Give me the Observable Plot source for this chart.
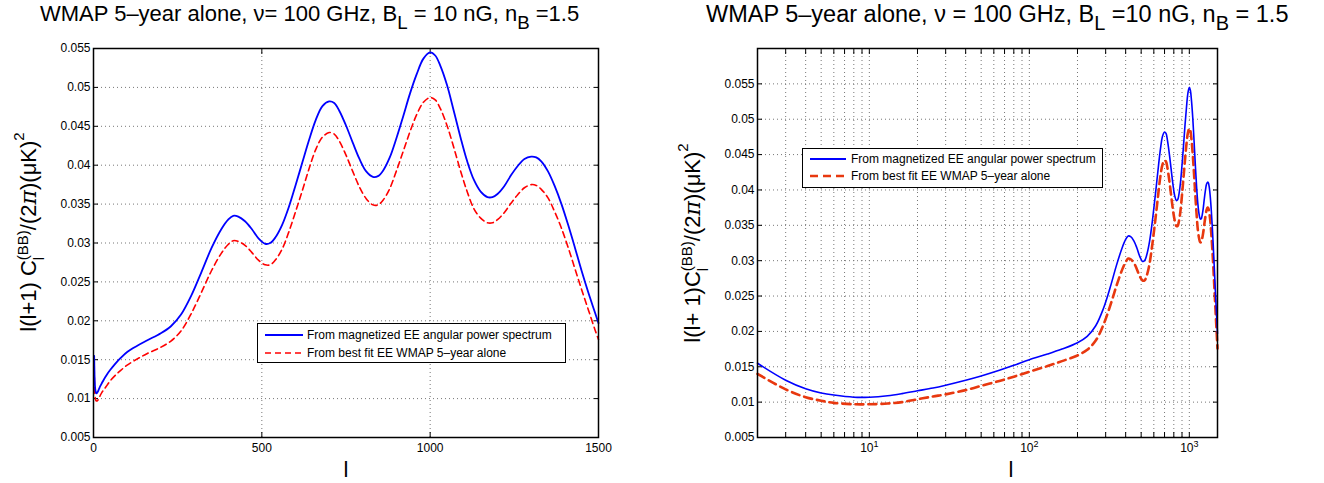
<!DOCTYPE html>
<html><head><meta charset="utf-8">
<script src="https://cdn.jsdelivr.net/npm/d3@7"></script>
<script src="https://cdn.jsdelivr.net/npm/@observablehq/plot@0.6"></script>
<style>
body{margin:0;background:#fff;font-family:"Liberation Sans",Arial,Helvetica,sans-serif;}
#wrap{position:relative;width:1324px;height:483px;overflow:hidden;background:#fff;}
.panel{position:absolute;top:0;}
.title{position:absolute;top:0px;white-space:nowrap;color:#000;line-height:28px;}
.title sub{font-size:0.85em;vertical-align:-0.42em;line-height:0;}
.ylab{position:absolute;font-size:22px;white-space:nowrap;transform:translate(-50%,-50%) rotate(-90deg);color:#000;line-height:26px;}
.ss{display:inline-flex;flex-direction:column;vertical-align:0.5em;font-size:15px;line-height:16px;}
.ylab sup{font-size:15px;vertical-align:0.75em;line-height:0;}
.xlab{position:absolute;font-size:22px;line-height:22px;color:#000;transform:translateX(-50%);}
.legend{position:absolute;background:#fff;border:1.3px solid #000;font-size:12px;color:#000;box-sizing:border-box;}
.legend .row{position:absolute;left:0;white-space:nowrap;line-height:14px;}
.legend svg{position:absolute;}
</style></head>
<body><div id="wrap"></div>
<script>
// ---- data ----
const ell = [2,3,4,5,6,8,10,13,16,20,25,30,40,50,65,80,100,130,160,200,230,260,290,320,350,380,400,415,430,450,470,490,510,525,540,560,580,600,620,640,660,680,700,715,730,750,770,790,810,830,845,860,880,900,920,940,960,980,1000,1015,1030,1050,1070,1090,1110,1130,1150,1170,1185,1200,1220,1240,1260,1280,1300,1315,1330,1350,1370,1390,1410,1430,1450,1470,1490,1500];
const magnetized = [0.0155,0.0131,0.0119,0.0113,0.0110,0.0107,0.0107,0.0109,0.0112,0.0116,0.0120,0.0124,0.0131,0.0137,0.0145,0.0152,0.0160,0.0168,0.0175,0.0184,0.0193,0.0208,0.0232,0.0262,0.0293,0.0318,0.0330,0.0335,0.0334,0.0328,0.0318,0.0306,0.0299,0.0300,0.0307,0.0323,0.0346,0.0374,0.0403,0.0432,0.0458,0.0476,0.0482,0.0480,0.0470,0.0451,0.0429,0.0408,0.0392,0.0385,0.0386,0.0393,0.0410,0.0435,0.0463,0.0492,0.0517,0.0537,0.0545,0.0541,0.0528,0.0503,0.0470,0.0436,0.0405,0.0381,0.0366,0.0359,0.0359,0.0363,0.0373,0.0387,0.0399,0.0408,0.0411,0.0410,0.0405,0.0392,0.0373,0.0350,0.0323,0.0294,0.0264,0.0236,0.0210,0.0197];
const bestFit = [0.0140,0.0118,0.0107,0.0102,0.0099,0.0097,0.0097,0.0098,0.0100,0.0104,0.0108,0.0111,0.0117,0.0123,0.0130,0.0136,0.0143,0.0151,0.0158,0.0166,0.0174,0.0187,0.0209,0.0236,0.0264,0.0287,0.0298,0.0303,0.0302,0.0297,0.0288,0.0278,0.0272,0.0272,0.0278,0.0292,0.0314,0.0340,0.0367,0.0395,0.0420,0.0436,0.0442,0.0440,0.0431,0.0413,0.0392,0.0372,0.0357,0.0349,0.0349,0.0355,0.0370,0.0393,0.0418,0.0443,0.0465,0.0481,0.0487,0.0484,0.0473,0.0451,0.0423,0.0393,0.0366,0.0344,0.0332,0.0326,0.0326,0.0330,0.0339,0.0351,0.0362,0.0371,0.0375,0.0374,0.0369,0.0358,0.0340,0.0319,0.0294,0.0267,0.0240,0.0214,0.0188,0.0176];
const seriesNames = ["From magnetized EE angular power spectrum", "From best fit EE WMAP 5\u2013year alone"];
const leftXTicks = [0, 500, 1000, 1500];
const leftYTicks = [0.005,0.01,0.015,0.02,0.025,0.03,0.035,0.04,0.045,0.05,0.055];
const rightYTicks = [0.005,0.01,0.015,0.02,0.025,0.03,0.035,0.04,0.045,0.05,0.055];
const rightXTicks = [2,3,4,5,6,7,8,9,10,20,30,40,50,60,70,80,90,100,200,300,400,500,600,700,800,900,1000];
const rightXMajor = [10, 100, 1000];

const rowsBlue = ell.map((l,i)=>({l, v: magnetized[i]}));
const rowsRed = ell.map((l,i)=>({l, v: bestFit[i]}));
const yfmt = d => String(+d.toFixed(3));

function makePanel(opts){
  const {xScale, yDomain, yTicks, xTicks, xFmt, gridX, ml, mr, redColor, redWidth, redDash, blueWidth} = opts;
  const W = 662, H = 483;
  return Plot.plot({
    width: W, height: H,
    marginLeft: ml, marginRight: mr, marginTop: 48, marginBottom: 46,
    style: {fontFamily: "'Liberation Sans', Arial, sans-serif", fontSize: "12px", color: "#000", background: "#fff"},
    x: xScale,
    y: {domain: yDomain},
    marks: [
      Plot.gridX(gridX, {stroke: "#777", strokeOpacity: 1, strokeDasharray: "1,3"}),
      Plot.gridY(yTicks.filter(t => t > yDomain[0] && t < yDomain[1]), {stroke: "#777", strokeOpacity: 1, strokeDasharray: "1,3"}),
      Plot.axisX(xTicks, {anchor: "bottom", tickSize: -5, tickPadding: 11, tickFormat: xFmt, fontSize: 12, label: null}),
      Plot.axisX(xTicks, {anchor: "top", tickSize: -5, tickFormat: () => "", label: null}),
      Plot.axisY(yTicks, {anchor: "left", tickSize: -5, tickPadding: 8, tickFormat: yfmt, fontSize: 12, label: null}),
      Plot.axisY(yTicks, {anchor: "right", tickSize: -5, tickFormat: () => "", label: null}),
      Plot.line(rowsRed, {x: "l", y: "v", stroke: redColor, strokeWidth: redWidth, strokeDasharray: redDash, curve: "catmull-rom"}),
      Plot.line(rowsBlue, {x: "l", y: "v", stroke: "#0000ff", strokeWidth: blueWidth, curve: "catmull-rom"}),
      Plot.frame({stroke: "#000", strokeWidth: 1.5})
    ]
  });
}

const wrap = document.getElementById("wrap");

// Left panel
const left = makePanel({
  xScale: {type: "linear", domain: [0, 1500]},
  yDomain: [0.005, 0.055], yTicks: leftYTicks, xTicks: leftXTicks,
  xFmt: d => String(d), gridX: [500, 1000], ml: 93, mr: 64,
  redColor: "#ff0000", redWidth: 1.6, redDash: "6,4", blueWidth: 1.8
});
left.classList.add("panel"); left.style.left = "0px";
wrap.appendChild(left);

// Right panel
const right = makePanel({
  xScale: {type: "log", domain: [2, 1500]},
  yDomain: [0.005, 0.06], yTicks: rightYTicks, xTicks: rightXTicks,
  xFmt: d => rightXMajor.includes(d) ? "10" : "", gridX: rightXTicks, ml: 95, mr: 107,
  redColor: "#e8380f", redWidth: 2.6, redDash: "8,5", blueWidth: 1.6
});
right.classList.add("panel"); right.style.left = "662px";
wrap.appendChild(right);

// superscript exponents on the log axis tick labels (10^1, 10^2, 10^3)
{
  let k = 0;
  d3.select(right).selectAll("g[aria-label='x-axis tick label'] text").each(function(){
    if (this.textContent === "10") {
      const exp = Math.round(Math.log10(rightXMajor[k++]));
      d3.select(this).append("tspan").attr("dy", "-0.55em").attr("font-size", "9px").text(String(exp));
    }
  });
}

function addHTML(html){ const div = document.createElement("div"); div.innerHTML = html; const el = div.firstElementChild; wrap.appendChild(el); return el; }

// titles
addHTML(`<div class="title" style="left:40px;font-size:22px">WMAP 5\u2013year alone, \u03bd= 100 GHz, B<sub>L</sub> = 10 nG, n<sub>B</sub> =1.5</div>`);
addHTML(`<div class="title" style="left:706px;font-size:23.5px">WMAP 5\u2013year alone, \u03bd = 100 GHz, B<sub>L</sub> =10 nG, n<sub>B</sub> = 1.5</div>`);

// y labels
const pi = `<span style="font-family:'DejaVu Serif',serif;font-style:italic">\u03c0</span>`;
addHTML(`<div class="ylab" style="left:31px;top:232px">l(l+1) C<span class="ss"><span>(BB)</span><span>l</span></span>/(2${pi})(\u03bcK)<sup>2</sup></div>`);
addHTML(`<div class="ylab" style="left:695px;top:243px">l(l+ 1)C<span class="ss"><span>(BB)</span><span>l</span></span>/(2${pi})(\u03bcK)<sup>2</sup></div>`);

// x labels
addHTML(`<div class="xlab" style="left:346px;top:459px">l</div>`);
addHTML(`<div class="xlab" style="left:1011px;top:459px">l</div>`);

// legends
function legend(x, y, w, h, lineX1, lineX2, textX, row1, row2, redColor, redWidth, redDash){
  const el = addHTML(`<div class="legend" style="left:${x}px;top:${y}px;width:${w}px;height:${h}px"></div>`);
  const rows = [[row1, "#0000ff", 1.8, null, seriesNames[0]], [row2, redColor, redWidth, redDash, seriesNames[1]]];
  for (const [ry, c, sw, dash, name] of rows) {
    const s = d3.create("svg").attr("width", lineX2 + 2).attr("height", 6).style("left", "0px").style("top", (ry - 3) + "px");
    s.append("line").attr("x1", lineX1).attr("x2", lineX2).attr("y1", 3).attr("y2", 3)
      .attr("stroke", c).attr("stroke-width", sw).attr("stroke-dasharray", dash);
    el.appendChild(s.node());
    const r = document.createElement("div"); r.className = "row"; r.style.left = textX + "px"; r.style.top = (ry - 7) + "px"; r.textContent = name;
    el.appendChild(r);
  }
}
legend(257, 323, 309, 40, 7, 45, 49, 11, 29, "#ff0000", 1.6, "6,4");
legend(802, 148, 301, 40, 7, 43, 48, 10, 27, "#e8380f", 2.6, "8,5");
</script></body></html>
